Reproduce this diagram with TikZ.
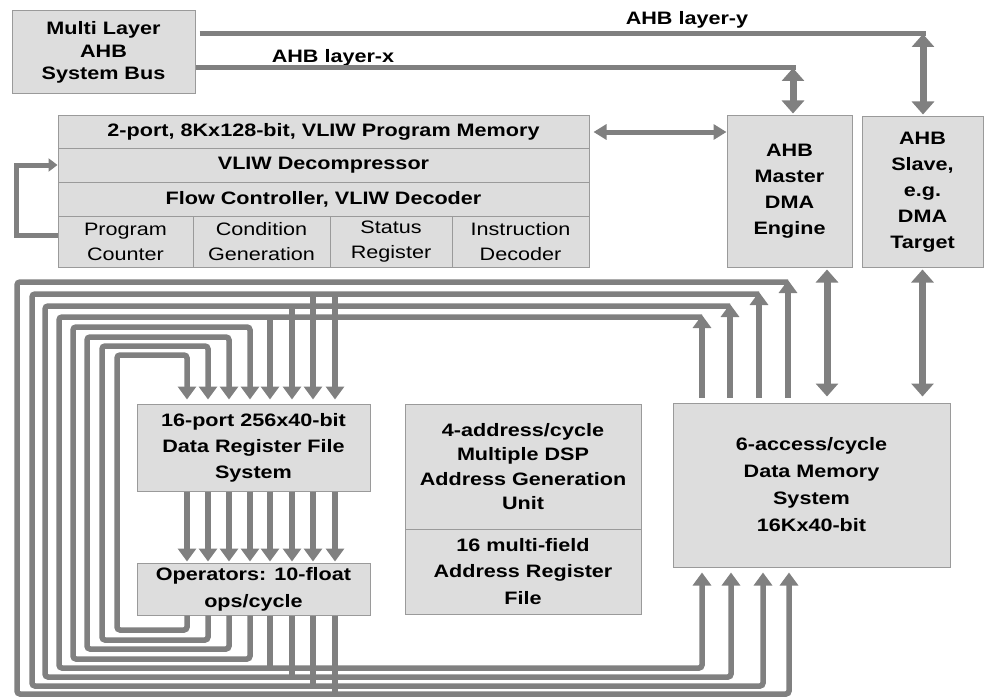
\documentclass[tikz,border=0pt]{standalone}
\usepackage{fontspec}
\setmainfont{Liberation Sans}[FakeStretch=1.2]
\usetikzlibrary{arrows.meta}
\definecolor{boxfill}{HTML}{DDDDDD}
\definecolor{boxline}{HTML}{9A9A9A}
\definecolor{wiregray}{HTML}{808080}

\tikzset{
  blk/.style={draw=boxline, fill=boxfill, line width=1pt, inner sep=0pt, align=center,
    font=\fontsize{18}{26}\selectfont\bfseries},
  cell/.style={blk, font=\fontsize{18}{25}\selectfont},
  wire/.style={draw=wiregray, line width=5.5pt, rounded corners=3pt},
  tip/.style={-{Triangle[width=18pt,length=13pt]}},
  busline/.style={draw=wiregray, line width=5pt},
  dbl/.style={draw=wiregray, line width=7pt,
    {Triangle[width=22pt,length=13pt]}-{Triangle[width=22pt,length=13pt]}},
  hdbl/.style={draw=wiregray, line width=5pt,
    {Triangle[width=15pt,length=13pt]}-{Triangle[width=15pt,length=13pt]}},
  lbl/.style={font=\fontsize{18}{22}\selectfont\bfseries}
}

\begin{document}
\begin{tikzpicture}[x=1pt, y=-1pt]
\useasboundingbox (0,0) rectangle (984,698);

\node[blk, minimum width=183pt, minimum height=83pt, font=\fontsize{18}{22.5}\selectfont\bfseries]
  (bus) at (103.5,52.5) {Multi Layer\\AHB\\System Bus};

\node[blk, minimum width=531pt, minimum height=32pt] (pmem) at (323.5,132) {2-port, 8Kx128-bit, VLIW Program Memory};
\node[blk, minimum width=531pt, minimum height=34pt] (dec) at (323.5,165) {VLIW Decompressor};
\node[blk, minimum width=531pt, minimum height=34pt] (flow) at (323.5,199) {Flow Controller, VLIW Decoder};
\node[cell, minimum width=135pt, minimum height=51pt] (pc) at (125.5,241.5) {Program\\Counter};
\node[cell, minimum width=137pt, minimum height=51pt] (cg) at (261.5,241.5) {Condition\\Generation};
\node[cell, minimum width=122pt, minimum height=51pt] (sr) at (391,241.5) {Status\\Register};
\node[cell, minimum width=137pt, minimum height=51pt] (id) at (520.5,241.5) {Instruction\\Decoder};

\node[blk, minimum width=125pt, minimum height=151pt] (master) at (789.5,191.5) {AHB\\Master\\DMA\\Engine};
\node[blk, minimum width=121pt, minimum height=150pt] (slave) at (922.5,192) {AHB\\Slave,\\e.g.\\DMA\\Target};

\node[blk, minimum width=233pt, minimum height=87pt] (drf) at (253.5,447.5) {16-port 256x40-bit\\Data Register File\\System};
\node[blk, minimum width=233pt, minimum height=52pt, font=\fontsize{18}{27}\selectfont\bfseries]
  (ops) at (253.5,589) {Operators: 10-float\\ops/cycle};
\node[blk, minimum width=236pt, minimum height=125pt, font=\fontsize{18}{24.5}\selectfont\bfseries]
  (agu) at (523,466.5) {4-address/cycle\\Multiple DSP\\Address Generation\\Unit};
\node[blk, minimum width=236pt, minimum height=85pt, font=\fontsize{18}{26.5}\selectfont\bfseries]
  (arf) at (523,571.5) {16 multi-field\\Address Register\\File};
\node[blk, minimum width=277pt, minimum height=164pt, font=\fontsize{18}{27}\selectfont\bfseries]
  (dmem) at (811.5,485) {6-access/cycle\\Data Memory\\System\\16Kx40-bit};

\coordinate (ly) at (923,34);
\coordinate (lx) at (793,68);
\coordinate (fb) at (16,165);
\node[lbl] (lylab) at (687,20) {AHB layer-y};
\node[lbl] (lxlab) at (333,58) {AHB layer-x};
\draw[busline, shorten <=4pt] (bus.east |- ly) -- ([xshift=3pt]ly);
\draw[busline] (bus.east |- lx) -- ([xshift=3pt]lx);
\draw[dbl, shorten >=2pt] (ly) -- (slave.north -| ly);
\draw[dbl, shorten >=2pt] (lx) -- (master.north -| lx);
\draw[hdbl, shorten <=4pt] (pmem.east) -- (master.west |- pmem.east);
\draw[dbl, shorten <=2pt, shorten >=6pt] (master.south -| 827,0) -- (dmem.north -| 827,0);
\draw[dbl, shorten <=2pt, shorten >=6pt] (slave.south) -- (dmem.north -| slave.south);

\draw[draw=wiregray, line width=5pt, -{Triangle[width=13pt,length=9pt]}]
  ([yshift=6pt]pc.west) -| (fb) -- (dec.west);

\foreach \xl/\yt/\yb/\xm/\xb in {17/282/694/788/789, 32/294/686/759/763, 45/306/677/730/731, 59/317/668/702/702}{
  \draw[wire, tip, shorten >=5pt] (\xm,\yt) -- (\xl,\yt) -- (\xl,\yb) -- (\xb,\yb) -- (dmem.south -| \xb,0);
  \draw[wire, tip, shorten <=5pt] (dmem.north -| \xm,0) -- (\xm,\yt-2);
}
\foreach \x/\y in {270/317, 292/306, 313/294, 335/294}
  \draw[wire, tip, shorten >=4pt] (\x,\y) -- (drf.north -| \x,0);
\foreach \x/\y in {270/668, 292/677, 313/686, 335/694}
  \draw[wire] (ops.south -| \x,0) -- (\x,\y+2.5);
\foreach \xl/\yt/\yb/\xt in {73/327/659/250, 87/337/649/229, 102/346/640/208, 117/355/630/187}
  \draw[wire, tip, shorten >=4pt] (ops.south -| \xt,0) -- (\xt,\yb) -- (\xl,\yb) -- (\xl,\yt) -- (\xt,\yt) -- (drf.north -| \xt,0);
\foreach \x in {187,208,229,250,270,292,313,335}
  \draw[wire, tip, shorten >=1pt] (drf.south -| \x,0) -- (ops.north -| \x,0);
\end{tikzpicture}
\end{document}
